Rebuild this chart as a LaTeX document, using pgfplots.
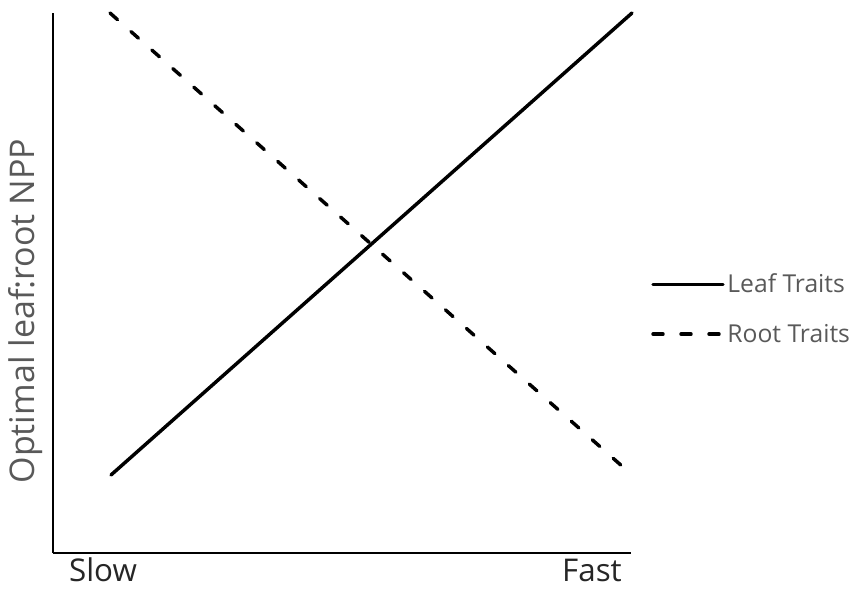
\documentclass[border=0pt]{standalone}
\usepackage{pgfplots}
\pgfplotsset{compat=1.18}
\usepackage{fontspec}
\setmainfont{Open Sans}
\definecolor{labgray}{HTML}{595959}
\begin{document}
\begin{tikzpicture}
\begin{axis}[
  x=0.75pt, y=0.75pt,
  xmin=53, xmax=631, ymin=36, ymax=576,
  axis lines=left,
  axis line style={line width=1.5pt, -},
  xtick=\empty, ytick=\empty,
  clip=false,
  legend cell align=left,
  legend style={draw=none, fill=none, at={(axis cs:651,280)}, anchor=west,
    font=\fontsize{18.5}{22}\selectfont, text=labgray,
    row sep=18pt, inner sep=0pt,
    /tikz/every even column/.append style={column sep=4pt}},
  legend image code/.code={\draw[#1] (0pt,0pt) -- (52.5pt,0pt);},
]
\path (axis cs:0,0) rectangle (axis cs:859,589);
\addplot[black, line width=2.6pt, line cap=round] coordinates {(111,114) (632,576)};
\addlegendentry{Leaf Traits}
\addplot[black, line width=2.6pt, line cap=round, dash pattern=on 7.5pt off 13.5pt] coordinates {(110,576) (623,122)};
\addlegendentry{Root Traits}
\node[anchor=base, inner sep=0pt, font=\fontsize{23.5}{28}\selectfont, text=black!85] at (axis cs:103,8) {Slow};
\node[anchor=base, inner sep=0pt, font=\fontsize{23.5}{28}\selectfont, text=black!85] at (axis cs:592,8) {Fast};
\node[rotate=90, inner sep=0pt, font=\fontsize{25.5}{30}\selectfont, text=labgray] at (axis cs:26,278) {Optimal leaf:root NPP};
\end{axis}
\end{tikzpicture}
\end{document}
